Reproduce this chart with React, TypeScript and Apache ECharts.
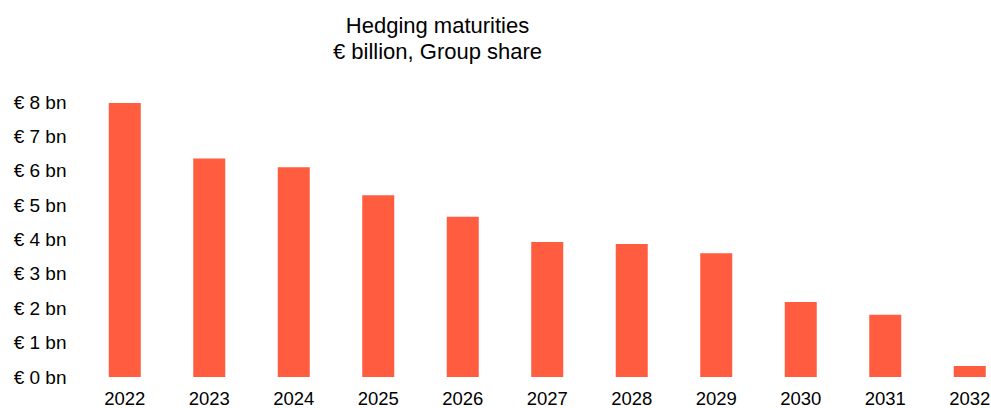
import React, { useEffect, useRef } from "react";
import * as echarts from "echarts";

const titleLines = ["Hedging maturities", "€ billion, Group share"];
const years = ["2022", "2023", "2024", "2025", "2026", "2027", "2028", "2029", "2030", "2031", "2032"];
const maturities = [7.97, 6.36, 6.1, 5.29, 4.66, 3.93, 3.87, 3.6, 2.18, 1.81, 0.32];
const yTicks = [0, 1, 2, 3, 4, 5, 6, 7, 8];

const FONT = "'Liberation Sans', Arial, sans-serif";

export default function App() {
  const ref = useRef<HTMLDivElement>(null);
  useEffect(() => {
    if (!ref.current) return;
    const chart = echarts.init(ref.current, null, { renderer: "svg" });
    chart.setOption({
      animation: false,
      backgroundColor: "#ffffff",
      graphic: [
        {
          type: "text",
          x: 437.5,
          y: 25,
          style: {
            text: titleLines[0],
            font: `22px ${FONT}`,
            fill: "#000000",
            align: "center",
            verticalAlign: "middle",
          },
        },
        {
          type: "text",
          x: 437.5,
          y: 51.7,
          style: {
            text: titleLines[1],
            font: `22px ${FONT}`,
            fill: "#000000",
            align: "center",
            verticalAlign: "middle",
          },
        },
      ],
      grid: {
        left: 82.5,
        top: 102,
        width: 929.5,
        height: 275,
        containLabel: false,
        outerBoundsMode: "none",
      },
      xAxis: {
        type: "category",
        data: years,
        axisLine: { show: false },
        axisTick: { show: false },
        axisLabel: {
          color: "#000000",
          fontSize: 18.5,
          lineHeight: 14,
          fontFamily: FONT,
          margin: 14.5,
          hideOverlap: false,
        },
      },
      yAxis: {
        type: "value",
        min: yTicks[0],
        max: yTicks[yTicks.length - 1],
        interval: 1,
        splitLine: { show: false },
        axisLine: { show: false },
        axisTick: { show: false },
        axisLabel: {
          color: "#000000",
          fontSize: 19,
          fontFamily: FONT,
          margin: 16,
          formatter: (v: number) => `€ ${v} bn`,
        },
      },
      series: [
        {
          type: "bar",
          data: maturities,
          barWidth: 32,
          itemStyle: { color: "#FF5C40" },
        },
      ],
    });
    return () => chart.dispose();
  }, []);
  return (
    <div
      ref={ref}
      style={{ position: "fixed", left: 0, top: 0, width: 991, height: 408 }}
    />
  );
}
